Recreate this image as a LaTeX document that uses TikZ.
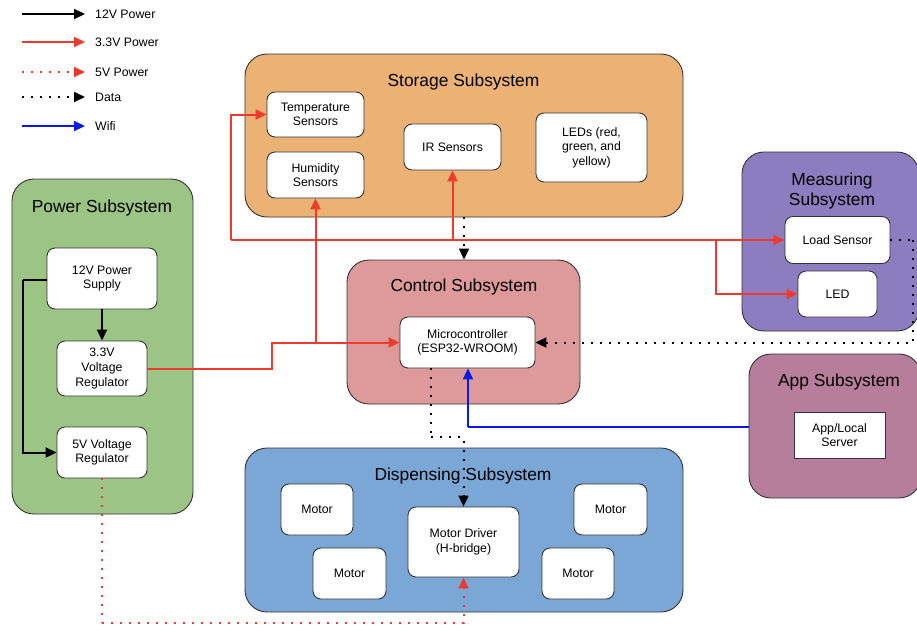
\documentclass[tikz,border=0pt]{standalone}
\usepackage{fontspec}
\setmainfont{Liberation Sans}
\usetikzlibrary{arrows.meta}
\definecolor{cstore}{HTML}{ECB275}
\definecolor{cpower}{HTML}{9CC485}
\definecolor{cctrl}{HTML}{DE9A9A}
\definecolor{cmeas}{HTML}{8C7DC0}
\definecolor{capp}{HTML}{B77E9C}
\definecolor{cdisp}{HTML}{7BA7D7}
\definecolor{cred}{HTML}{EE3B2E}
\definecolor{cblue}{HTML}{0A1AE6}
\definecolor{cedge}{HTML}{333333}
\tikzset{
  sub/.style={draw=cedge, line width=0.9pt, rounded corners=22pt, inner sep=0pt},
  ttl/.style={font=\fontsize{17.4}{20.5}\selectfont, align=center, inner sep=0pt},
  blk/.style={draw=cedge, fill=white, line width=0.9pt, rounded corners=8pt, inner sep=0pt,
    align=center, font=\fontsize{12.3}{14.6}\selectfont},
  sqblk/.style={blk, rounded corners=0pt},
  tip/.style={-{Triangle[length=11pt,width=10pt]}},
  p12/.style={tip, line width=2pt, black},
  p33/.style={tip, line width=2pt, cred},
  p5/.style={tip, line width=2pt, cred, dash pattern=on 2pt off 7pt},
  data/.style={tip, line width=2pt, black, dash pattern=on 2pt off 7pt},
  wifi/.style={tip, line width=2.2pt, cblue},
  leg/.style={font=\fontsize{12.3}{14.6}\selectfont, anchor=west, inner sep=0pt},
}
\begin{document}
\begin{tikzpicture}[x=1pt,y=-1pt]
\clip (0,0) rectangle (917,627);
\fill[white] (0,0) rectangle (917,627);

% legend
\coordinate (la1) at (22,14);  \coordinate (lb1) at (85,14);
\coordinate (la2) at (22,42);  \coordinate (lb2) at (85,42);
\coordinate (la3) at (22,72);  \coordinate (lb3) at (85,72);
\coordinate (la4) at (22,97);  \coordinate (lb4) at (85,97);
\coordinate (la5) at (22,126); \coordinate (lb5) at (85,126);
\draw[p12] (la1) -- (lb1);
\draw[p33] (la2) -- (lb2);
\draw[p5] (la3) -- (lb3);
\draw[data] (la4) -- (lb4);
\draw[wifi] (la5) -- (lb5);
\node[leg] (t1) at (95,14) {12V Power};
\node[leg] (t2) at (95,42) {3.3V Power};
\node[leg] (t3) at (95,72) {5V Power};
\node[leg] (t4) at (95,97) {Data};
\node[leg] (t5) at (95,126) {Wifi};

% subsystems
\node[sub, fill=cstore, minimum width=438pt, minimum height=163pt] (storage) at (464,135.5) {};
\node[sub, fill=cpower, minimum width=181pt, minimum height=335pt] (power) at (102.5,346.5) {};
\node[sub, fill=cctrl, minimum width=233pt, minimum height=144pt] (control) at (463.5,332) {};
\node[sub, fill=cmeas, minimum width=177pt, minimum height=179pt] (meas) at (830.5,241.5) {};
\node[sub, fill=capp, minimum width=172pt, minimum height=144pt] (app) at (835,426) {};
\node[sub, fill=cdisp, minimum width=438pt, minimum height=164pt] (disp) at (464,530) {};

\node[ttl] (tstorage) at (463.5,82) {Storage Subsystem};
\node[ttl] (tpower) at (102,208) {Power Subsystem};
\node[ttl] (tcontrol) at (464,287) {Control Subsystem};
\node[ttl] (tmeas) at (832,191) {Measuring\\Subsystem};
\node[ttl] (tapp) at (839,382) {App Subsystem};
\node[ttl] (tdisp) at (463,476) {Dispensing Subsystem};

% storage blocks
\node[blk, minimum width=97pt, minimum height=45pt] (temp) at (315.5,114.5) {Temperature\\Sensors};
\node[blk, minimum width=97pt, minimum height=46pt] (hum) at (315.5,175) {Humidity\\Sensors};
\node[blk, minimum width=97pt, minimum height=46pt] (ir) at (452.5,147) {IR Sensors};
\node[blk, minimum width=111pt, minimum height=69pt] (leds) at (591.5,147.5) {LEDs (red,\\green, and\\yellow)};

% measuring blocks
\node[blk, minimum width=105pt, minimum height=47pt] (load) at (837.5,240) {Load Sensor};
\node[blk, minimum width=79pt, minimum height=46pt] (led) at (837.5,294) {LED};

% control
\node[blk, minimum width=135pt, minimum height=51pt] (mcu) at (467.5,342.5) {Microcontroller\\(ESP32-WROOM)};

% power blocks
\node[blk, minimum width=110pt, minimum height=61pt] (ps) at (102,278.5) {12V Power\\Supply};
\node[blk, minimum width=90pt, minimum height=55pt] (v33) at (102,368.5) {3.3V\\Voltage\\Regulator};
\node[blk, minimum width=90pt, minimum height=51pt] (v5) at (102,452.5) {5V Voltage\\Regulator};

% app
\node[sqblk, minimum width=91pt, minimum height=46pt] (srv) at (839.5,435) {App/Local\\Server};

% dispensing blocks
\node[blk, minimum width=72pt, minimum height=51pt] (m1) at (317,509.5) {Motor};
\node[blk, minimum width=73pt, minimum height=51pt] (m2) at (349.5,573.5) {Motor};
\node[blk, minimum width=111pt, minimum height=70pt] (drv) at (463.5,542) {Motor Driver\\(H-bridge)};
\node[blk, minimum width=73pt, minimum height=51pt] (m3) at (610.5,509.5) {Motor};
\node[blk, minimum width=72pt, minimum height=51pt] (m4) at (578,573.5) {Motor};

% coordinates for bends
\coordinate (j1) at (272,355);
\coordinate (tl) at (231,240);
\coordinate (jr) at (716,240);
\coordinate (dr) at (913,240);
\coordinate (db) at (431,437);
\coordinate (wb) at (468,427);
\coordinate (fb) at (102,623);
\coordinate (lb) at (23,280);

% 12V power
\draw[p12] (ps.south) -- (v33.north);
\draw[p12, -] (lb -| ps.west) -- (lb);
\draw[p12] (lb) |- (v5.west);

% 3.3V power
\draw[p33] (v33.east) -| (j1) |- (mcu.west);
\draw[p33] (hum.south |- mcu.west) -- (hum.south);
\draw[p33, -] (tl) -- (jr);
\draw[p33] (tl) |- (temp.west);
\draw[p33] (ir.south |- tl) -- (ir.south);
\draw[p33] (jr) -- (load.west);
\draw[p33] (jr) |- (led.west);

% 5V power
\draw[p5, -] (v5.south) -- (fb);
\draw[p5] (fb) -| (drv.south);

% data
\draw[data] (storage.south) -- (storage.south |- control.north);
\draw[data, -] (load.east) -- (dr);
\draw[data] (dr) |- (mcu.east);
\draw[data, -] (mcu.south -| db) -- (db);
\draw[data] (db) -| (drv.north);

% wifi
\draw[wifi, -] (wb -| app.west) -- (wb);
\draw[wifi] (wb) -- (wb |- mcu.south);
\end{tikzpicture}
\end{document}
